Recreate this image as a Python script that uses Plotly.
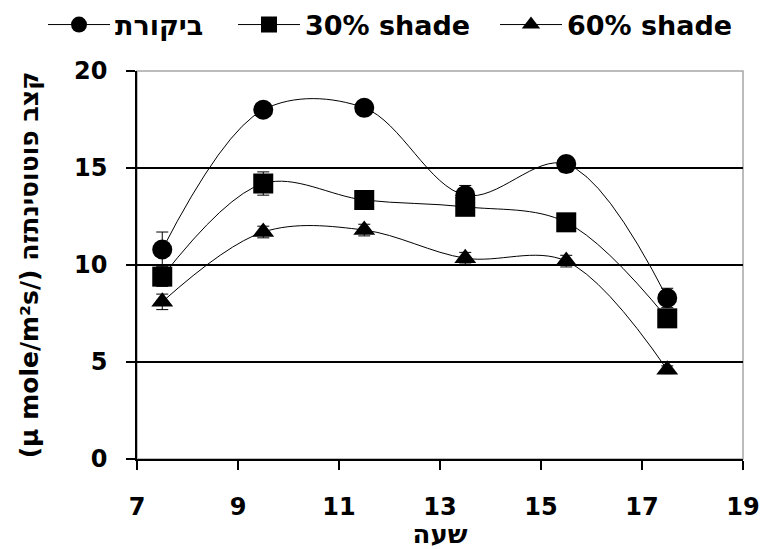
import plotly.graph_objects as go

hours = [7.5, 9.5, 11.5, 13.5, 15.5, 17.5]
control = [10.8, 18.0, 18.1, 13.6, 15.2, 8.3]
control_err = [0.9, 0.3, 0.3, 0.5, 0.4, 0.5]
shade30 = [9.4, 14.2, 13.35, 13.0, 12.2, 7.25]
shade30_err = [0.5, 0.6, 0.4, 0.4, 0.3, 0.4]
shade60 = [8.1, 11.7, 11.8, 10.35, 10.2, 4.6]
shade60_err = [0.4, 0.3, 0.3, 0.3, 0.3, 0.2]

names = ["ביקורת", "30% shade", "60% shade"]
symbols = ["circle", "square", "triangle-up"]
sizes = [20, 20, 19]

x_ticks = [7, 9, 11, 13, 15, 17, 19]
y_ticks = [0, 5, 10, 15, 20]
grid_vals = [5, 10, 15]

FONT = "DejaVu Sans"
# page body has an 8px default margin; size the figure so the plot lands where the reference has it
W, H = 759, 541

legend_ids = ["legend", "legend2", "legend3"]
legend_x = [35, 225, 487]

fig = go.Figure()
for name, ys, errs, sym, sz, lid in zip(names, [control, shade30, shade60],
                                         [control_err, shade30_err, shade60_err], symbols, sizes,
                                         legend_ids):
    fig.add_trace(go.Scatter(
        x=hours, y=ys, name=name, mode="lines+markers", legend=lid,
        line=dict(color="black", width=1, shape="spline", smoothing=1.0),
        marker=dict(symbol=sym, size=sz, color="black"),
        error_y=dict(type="data", array=errs, visible=True, color="black", thickness=1, width=6),
    ))

# invisible trace on overlay axis to carry grid lines
fig.add_trace(go.Scatter(x=[hours[0]], y=[grid_vals[0]], yaxis="y2", showlegend=False,
                         mode="markers", marker=dict(opacity=0), hoverinfo="skip"))

legend_style = dict(orientation="h", xref="container", yref="container", xanchor="left",
                    y=1 - 17 / H, yanchor="middle",
                    font=dict(family=FONT, size=27, weight="bold", color="black"),
                    itemwidth=62, bgcolor="rgba(0,0,0,0)")
legends = {lid: dict(legend_style, x=lx / W) for lid, lx in zip(legend_ids, legend_x)}

fig.update_layout(
    width=W, height=H,
    margin=dict(l=129, r=24, t=63, b=90, autoexpand=False),
    paper_bgcolor="white", plot_bgcolor="white",
    font=dict(family=FONT, color="black"),
    showlegend=True,
    **legends,
    xaxis=dict(range=[7, 19], tickvals=x_ticks, ticktext=[str(v) for v in x_ticks],
               showline=True, linecolor="black", linewidth=1.5, ticks="outside",
               ticklen=9, tickwidth=1.5, tickcolor="black", showgrid=False, zeroline=False,
               tickfont=dict(family=FONT, size=24, weight="bold"), ticklabelstandoff=16,
               title=dict(text="שעה", font=dict(family=FONT, size=26, weight="bold"), standoff=0)),
    yaxis=dict(range=[0, 20], tickvals=y_ticks, showline=True, linecolor="black", linewidth=1.5,
               ticks="outside", ticklen=9, tickwidth=1.5, tickcolor="black", showgrid=False,
               zeroline=False, tickfont=dict(family=FONT, size=24, weight="bold"), ticklabelstandoff=14,
               title=dict(text="(µ mole/m²s/) קצב פוטוסינתזה",
                          font=dict(family=FONT, size=25, weight="bold"), standoff=28)),
    yaxis2=dict(range=[0, 20], overlaying="y", tickvals=grid_vals, showgrid=True, gridcolor="black",
                gridwidth=1.5, showticklabels=False, ticks="", showline=False, zeroline=False),
    shapes=[dict(type="rect", xref="paper", yref="paper", x0=0, x1=1, y0=0, y1=1,
                 line=dict(color="#a6a6a6", width=1.5), layer="below")],
)

fig.write_html("out.html")
